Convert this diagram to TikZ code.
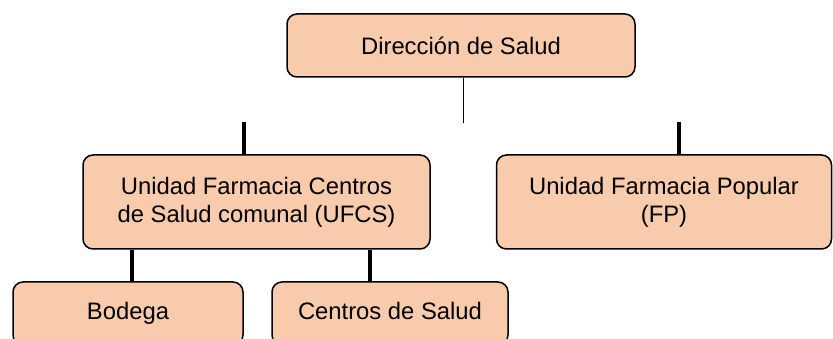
\documentclass[tikz,border=0pt]{standalone}
\usepackage{fontspec}
\setmainfont{Liberation Sans}
\definecolor{peach}{HTML}{F8CBAD}
\tikzset{
  orgbox/.style={draw=black, line width=1.5pt, fill=peach, rounded corners=10pt,
    align=center, inner sep=0pt, font=\fontsize{23.8}{28}\selectfont, text=black},
  thinlink/.style={line width=1pt},
  thicklink/.style={line width=3.2pt}
}
\begin{document}
\begin{tikzpicture}[x=1pt,y=-1pt]
\useasboundingbox (0,0) rectangle (833,339);
\clip (0,0) rectangle (833,339);
\node[orgbox, minimum width=348pt, minimum height=63pt] (dir) at (461,45.5) {Dirección de Salud};
\node[orgbox, minimum width=347pt, minimum height=94pt] (ufcs) at (256.5,202) {Unidad Farmacia Centros\\de Salud comunal (UFCS)};
\node[orgbox, minimum width=335pt, minimum height=94pt] (fp) at (664,202) {Unidad Farmacia Popular\\(FP)};
\node[orgbox, minimum width=230pt, minimum height=63pt] (bod) at (128,313.5) {\raisebox{5pt}{Bodega}};
\node[orgbox, minimum width=236pt, minimum height=63pt] (cs) at (390,313.5) {\raisebox{5pt}{Centros de Salud}};
\coordinate (dirend) at (463,123);
\coordinate (ufcstop) at (244,122);
\coordinate (fptop) at (679,122);
\coordinate (bodx) at (132,0);
\coordinate (csx) at (370,0);
\draw[thinlink] (dir.south -| dirend) -- (dirend);
\draw[thicklink] (ufcstop) -- (ufcs.north -| ufcstop);
\draw[thicklink] (fptop) -- (fp.north -| fptop);
\draw[thicklink] (ufcs.south -| bodx) -- (bod.north -| bodx);
\draw[thicklink] (ufcs.south -| csx) -- (cs.north -| csx);
\end{tikzpicture}
\end{document}
